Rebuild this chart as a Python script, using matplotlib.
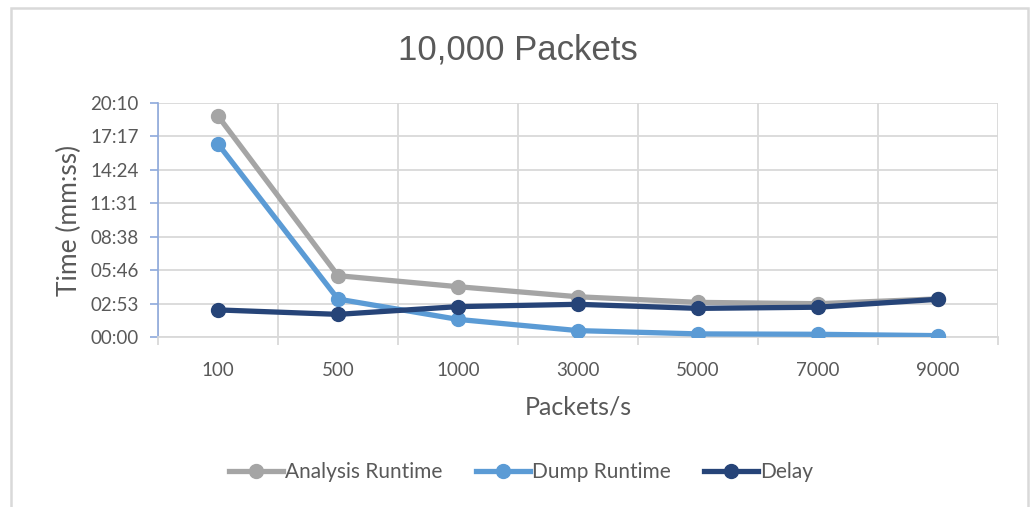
import numpy as np
import matplotlib
matplotlib.use('Agg')
import matplotlib.pyplot as plt
from matplotlib.ticker import FuncFormatter, FixedLocator
from matplotlib.patches import Rectangle
from matplotlib.lines import Line2D

# packets per second (categories)
rates = ['100', '500', '1000', '3000', '5000', '7000', '9000']

# times in seconds
analysis_runtime = [1142, 317, 260, 208, 179, 172, 197]
dump_runtime = [998, 196, 91, 33, 16, 14, 7]
delay = [140, 117, 157, 169, 148, 154, 195]

# excel major unit 0.002 day = 172.8 s
y_ticks = [0, 172.8, 345.6, 518.4, 691.2, 864.0, 1036.8, 1209.6]

TXT = '#595959'
GRID = '#D9D9D9'


def mmss(v, pos=None):
    t = int(round(v))
    return '%02d:%02d' % (t // 60, t % 60)


fig = plt.figure(figsize=(10.30, 5.07), dpi=100)
fig.patches.append(Rectangle((11 / 1030, -0.1), 1017 / 1030, 1.1 - 8 / 507,
                             transform=fig.transFigure, fill=False,
                             edgecolor=GRID, linewidth=1.8))

ax = fig.add_axes([158 / 1030, 1 - 337 / 507, 840 / 1030, 234 / 507])
x = np.arange(len(rates))

series = [(analysis_runtime, '#A5A5A5', 'Analysis Runtime'),
          (dump_runtime, '#5B9BD5', 'Dump Runtime'),
          (delay, '#264478', 'Delay')]
for vals, col, name in series:
    ax.plot(x, vals, color=col, lw=3.8, marker='o', ms=10, label=name,
            solid_capstyle='round', zorder=3)

ax.set_xlim(-0.5, len(rates) - 0.5)
ax.set_ylim(0, y_ticks[-1])
ax.yaxis.set_major_locator(FixedLocator(y_ticks))
ax.yaxis.set_major_formatter(FuncFormatter(mmss))
ax.set_xticks(x)
ax.set_xticklabels(rates)
ax.set_xticks(np.arange(len(rates) + 1) - 0.5, minor=True)

ax.grid(axis='y', color=GRID, lw=1.3, zorder=0)
ax.grid(axis='x', which='minor', color=GRID, lw=1.3, zorder=0)
ax.tick_params(axis='x', which='major', length=0, pad=18, labelsize=13.5, labelcolor=TXT)
ax.tick_params(axis='x', which='minor', length=6, color=GRID, width=1.3)
ax.tick_params(axis='y', length=6, color='#8EA9DB', width=1.2, pad=8,
               labelsize=13.5, labelcolor=TXT)

for s in ['top', 'right']:
    ax.spines[s].set_visible(False)
ax.spines['bottom'].set_color(GRID)
ax.spines['bottom'].set_linewidth(1.3)
ax.spines['left'].set_color('#8EA9DB')
ax.spines['left'].set_linewidth(1.2)

for lab in ax.get_xticklabels() + ax.get_yticklabels():
    lab.set_family('Lato')

ax.set_ylabel('Time (mm:ss)', fontsize=19, color=TXT, family='Lato', labelpad=6)
ax.set_xlabel('Packets/s', fontsize=18, color=TXT, family='Lato', labelpad=12)

fig.text(518 / 1030, 1 - 50 / 507, '10,000 Packets', ha='center', va='center',
         fontsize=25, color=TXT, family='Liberation Sans')

handles = [Line2D([], [], color=c, lw=3.8, marker='o', ms=10) for _, c, _ in series]
leg = fig.legend(handles, [n for _, _, n in series], loc='center',
                 bbox_to_anchor=(521 / 1030, 1 - 472 / 507), ncol=3, frameon=False,
                 handlelength=2.6, handletextpad=0.1, columnspacing=1.6,
                 prop={'family': 'Lato', 'size': 15})
for t in leg.get_texts():
    t.set_color(TXT)

fig.savefig('out.png', dpi=100)
